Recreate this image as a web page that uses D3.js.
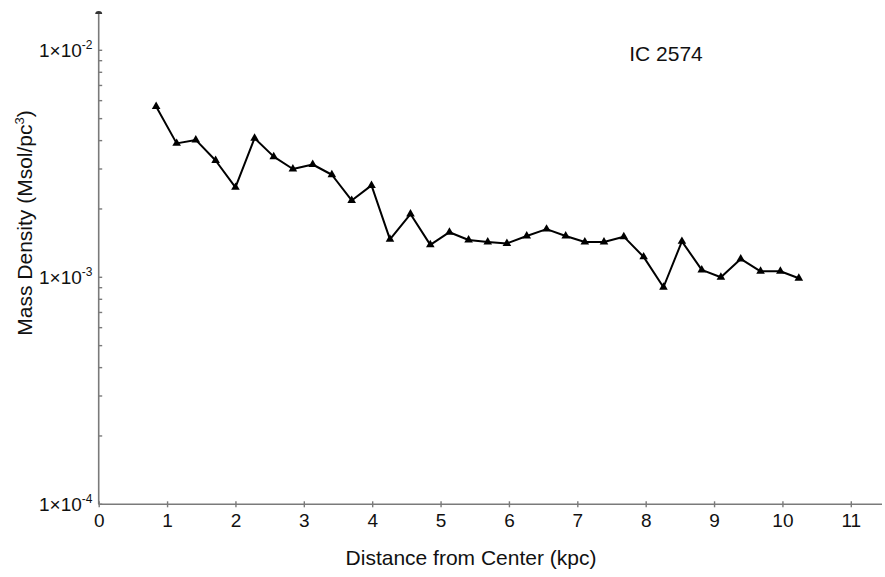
<!DOCTYPE html>
<html>
<head>
<meta charset="utf-8">
<script src="https://cdn.jsdelivr.net/npm/d3@7"></script>
<style>
  body { margin: 0; background: #fff; }
  text { font-family: "Liberation Sans", Arial, sans-serif; fill: #111; }
</style>
</head>
<body>
<svg id="chart" width="885" height="577"></svg>
<script>
// values (kpc, Msol/pc^3)
var distance = [0.84, 1.14, 1.42, 1.71, 2.00, 2.28, 2.56, 2.84, 3.13, 3.41,
                3.70, 3.99, 4.26, 4.56, 4.85, 5.13, 5.41, 5.69, 5.97, 6.26,
                6.55, 6.83, 7.11, 7.39, 7.68, 7.97, 8.26, 8.53, 8.82, 9.10,
                9.39, 9.68, 9.97, 10.24];
var density = [5.65e-3, 3.89e-3, 4.03e-3, 3.27e-3, 2.49e-3, 4.10e-3, 3.40e-3, 3.00e-3, 3.14e-3, 2.83e-3,
               2.18e-3, 2.54e-3, 1.47e-3, 1.90e-3, 1.39e-3, 1.58e-3, 1.46e-3, 1.43e-3, 1.41e-3, 1.52e-3,
               1.63e-3, 1.52e-3, 1.43e-3, 1.43e-3, 1.51e-3, 1.23e-3, 0.904e-3, 1.44e-3, 1.078e-3, 1.00e-3,
               1.205e-3, 1.063e-3, 1.063e-3, 0.99e-3];
var xTicks = [0, 1, 2, 3, 4, 5, 6, 7, 8, 9, 10, 11];
var yMajor = [1e-4, 1e-3, 1e-2];
var yExp = ["-4", "-3", "-2"];
var galaxy = "IC 2574";

var svg = d3.select("#chart");
var axisColor = "#7a7a7a";

var x = d3.scaleLinear().domain([0, 11]).range([98.7, 850.8]);
var y = d3.scaleLog().domain([1e-4, 1e-2]).range([504.3, 50.3]);

// minor ticks: 2..9 in each decade
var yMinor = [];
yMajor.slice(0, 2).forEach(function(d) {
  for (var k = 2; k < 10; k++) yMinor.push(d * k);
});

var g = svg.append("g");

// axis lines
g.append("line")
  .attr("x1", x(0)).attr("x2", 882)
  .attr("y1", y(1e-4)).attr("y2", y(1e-4))
  .attr("stroke", axisColor).attr("stroke-width", 1.6);
g.append("line")
  .attr("x1", x(0)).attr("x2", x(0))
  .attr("y1", y(1e-4)).attr("y2", 13)
  .attr("stroke", axisColor).attr("stroke-width", 1.6);
// cap at top of y axis
g.append("path")
  .attr("d", "M" + (x(0) - 3.5) + ",14 A3.5,3 0 0 1 " + (x(0) + 3.5) + ",14 Z")
  .attr("fill", "#333");

// x axis ticks
var xAxis = d3.axisBottom(x).tickValues(xTicks).tickSize(3).tickPadding(4)
  .tickFormat(d3.format("d"));
var gx = g.append("g")
  .attr("transform", "translate(0," + y(1e-4) + ")")
  .call(xAxis);
gx.select(".domain").remove();
gx.selectAll(".tick line").attr("y1", -3).attr("y2", 3)
  .attr("stroke", axisColor).attr("stroke-width", 1.4);
gx.selectAll(".tick text")
  .attr("font-size", 19).attr("font-family", "Liberation Sans, Arial, sans-serif")
  .attr("fill", "#111").attr("dy", "0.85em");

// y axis ticks
var gy = g.append("g");
gy.selectAll("line.minor")
  .data(yMinor.concat(yMajor))
  .enter().append("line")
  .attr("class", "minor")
  .attr("x1", x(0)).attr("x2", x(0) + 3.5)
  .attr("y1", function(d) { return y(d); })
  .attr("y2", function(d) { return y(d); })
  .attr("stroke", axisColor).attr("stroke-width", 1.4);

var lbl = gy.selectAll("text.ylab")
  .data(yMajor)
  .enter().append("text")
  .attr("class", "ylab")
  .attr("x", 92.5)
  .attr("y", function(d) { return y(d) + 7; })
  .attr("text-anchor", "end")
  .attr("font-size", 19);
lbl.append("tspan").text("1\u00d710");
lbl.append("tspan")
  .attr("font-size", 12).attr("dy", -8)
  .text(function(d, i) { return yExp[i]; });

// series
var line = d3.line()
  .x(function(d) { return x(d[0]); })
  .y(function(d) { return y(d[1]); });
var pts = d3.zip(distance, density);

g.append("path")
  .datum(pts)
  .attr("d", line)
  .attr("fill", "none")
  .attr("stroke", "#000")
  .attr("stroke-width", 2)
  .attr("stroke-linejoin", "round");

g.selectAll("path.marker")
  .data(pts)
  .enter().append("path")
  .attr("class", "marker")
  .attr("d", d3.symbol().type(d3.symbolTriangle).size(32))
  .attr("transform", function(d) { return "translate(" + x(d[0]) + "," + y(d[1]) + ")"; })
  .attr("fill", "#000");

// labels
svg.append("text")
  .attr("x", 666).attr("y", 61)
  .attr("text-anchor", "middle")
  .attr("font-size", 21)
  .text(galaxy);

svg.append("text")
  .attr("x", 471).attr("y", 565)
  .attr("text-anchor", "middle")
  .attr("font-size", 21)
  .text("Distance from Center (kpc)");

var yt = svg.append("text")
  .attr("transform", "translate(32,223) rotate(-90)")
  .attr("text-anchor", "middle")
  .attr("font-size", 21);
yt.append("tspan").text("Mass Density (Msol/pc");
yt.append("tspan").attr("font-size", 13).attr("dy", -8).text("3");
yt.append("tspan").attr("dy", 8).text(")");
</script>
</body>
</html>
